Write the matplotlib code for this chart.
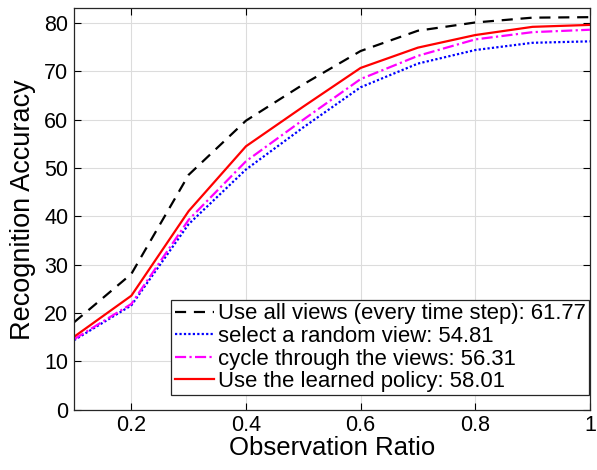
import matplotlib
matplotlib.use('Agg')
from matplotlib import pyplot as plt
import numpy as np

plt.rcParams['font.family'] = ['Liberation Sans', 'DejaVu Sans']

ratio = [0.1, 0.2, 0.3, 0.4, 0.5, 0.6, 0.7, 0.8, 0.9, 1.0]
all_views = [18.1, 28.1, 48.6, 59.8, 67.3, 74.2, 78.4, 80.1, 81.1, 81.2]
random_view = [14.4, 21.6, 38.4, 49.7, 58.4, 66.7, 71.6, 74.4, 75.9, 76.2]
cycle_views = [14.6, 21.9, 39.3, 51.4, 60.0, 68.4, 73.2, 76.6, 78.1, 78.6]
learned = [15.1, 23.6, 41.1, 54.5, 62.7, 70.7, 74.9, 77.5, 79.2, 79.6]

labels = ['Use all views (every time step): 61.77',
          'select a random view: 54.81',
          'cycle through the views: 56.31',
          'Use the learned policy: 58.01']

fig = plt.figure(figsize=(5.97, 4.7), dpi=100)
ax = fig.add_axes([0.124, 0.128, 0.864, 0.854])

ax.plot(ratio, all_views, color='k', linestyle=(0, (5, 3.5)), lw=1.6, label=labels[0])
ax.plot(ratio, random_view, color='b', linestyle=(0, (1, 1)), lw=1.6, label=labels[1])
ax.plot(ratio, cycle_views, color='#ff00ff', linestyle=(0, (5, 1.5, 1, 1.5)), lw=1.6, label=labels[2])
ax.plot(ratio, learned, color='r', linestyle='-', lw=1.6, label=labels[3])

ax.set_xlim(0.1, 1.0)
ax.set_ylim(0, 83)
ax.set_xticks([0.2, 0.4, 0.6, 0.8, 1.0])
ax.set_xticklabels(['0.2', '0.4', '0.6', '0.8', '1'])
ax.set_yticks(np.arange(0, 81, 10))
ax.tick_params(direction='in', top=True, right=True, labelsize=15.5, length=5, width=0.8, pad=4)
ax.grid(True, color='#dcdcdc', lw=0.8)
ax.set_axisbelow(True)
for s in ax.spines.values():
    s.set_color('#262626')
    s.set_linewidth(0.9)

ax.set_xlabel('Observation Ratio', fontsize=18.5, labelpad=0)
ax.set_ylabel('Recognition Accuracy', fontsize=19.5, labelpad=6)

leg = ax.legend(loc='lower right', bbox_to_anchor=(0.998, 0.036), fontsize=15.9,
                handlelength=1.8, handletextpad=0.15, borderpad=0.15, labelspacing=0.07,
                borderaxespad=0, fancybox=False, framealpha=1)
leg.get_frame().set_edgecolor('#262626')
leg.get_frame().set_linewidth(0.9)

fig.savefig('out.png', dpi=100)
